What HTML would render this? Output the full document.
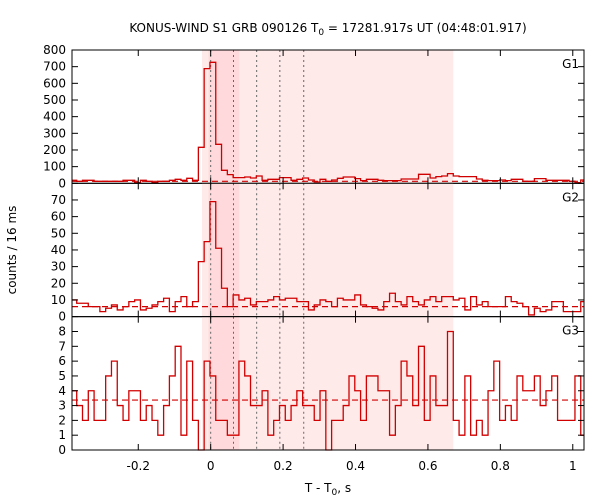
<!DOCTYPE html>
<html><head><meta charset="utf-8"><style>
html,body{margin:0;padding:0;background:#fff}
svg{display:block;font-family:"DejaVu Sans","Liberation Sans",sans-serif}
</style></head><body>
<svg id="chart" width="600" height="500" viewBox="0 0 600 500" xmlns="http://www.w3.org/2000/svg">
<text x="328" y="32" text-anchor="middle" font-size="12">KONUS-WIND S1 GRB 090126 T<tspan font-size="9" dy="3">0</tspan><tspan dy="-3"> = 17281.917s UT (04:48:01.917)</tspan></text>
<text transform="translate(16,250) rotate(-90)" text-anchor="middle" font-size="12">counts / 16 ms</text>
<text x="328" y="492" text-anchor="middle" font-size="12">T - T<tspan font-size="9" dy="3">0</tspan><tspan dy="-3">, s</tspan></text>
<g id="plots"></g>
</svg>
<script>
const binStart = -0.386;
const binWidth = 0.016;
const g1Counts = [18,12,18,18,12,12,12,12,12,18,18,4,18,12,4,12,12,18,24,18,30,18,216,688,726,234,78,52,34,34,38,32,44,18,24,24,34,34,18,24,32,20,8,24,12,20,30,38,38,28,16,24,24,18,16,16,16,26,26,26,54,54,32,40,44,58,44,40,40,40,26,18,16,16,20,16,24,24,12,12,28,28,18,18,18,18,12,4,20];
const g2Counts = [10,8,8,6,6,3,5,7,4,6,9,10,4,5,7,9,11,3,9,12,6,9,33,45,69,41,17,6,13,10,11,7,9,9,10,12,10,11,11,9,9,4,7,10,9,6,11,10,10,13,7,6,5,4,9,14,9,7,12,9,7,10,12,9,12,12,10,11,4,12,7,9,6,6,6,12,9,8,6,1,5,3,4,9,9,3,3,3,9];
const g3Counts = [4,3,2,4,2,2,5,6,3,2,4,4,2,3,2,1,3,5,7,1,6,2,0,6,5,2,2,1,1,6,5,3,3,4,1,2,3,2,3,4,3,3,2,4,0,2,2,3,5,4,2,5,5,4,4,1,3,6,5,3,7,2,5,3,3,8,2,1,5,1,2,1,4,6,2,3,2,5,4,4,5,3,4,5,2,2,2,5,1];
const backgrounds = [12, 6, 3.37];
const panelNames = ["G1","G2","G3"];
const yMaxes = [800, 80, 9];
const yTickSteps = [100, 10, 1];
const yTickMaxes = [800, 70, 8];
const xTicks = [-0.2, 0, 0.2, 0.4, 0.6, 0.8, 1.0];
const xTickLabels = ["-0.2","0","0.2","0.4","0.6","0.8","1"];
const dottedTimes = [0, 0.063, 0.127, 0.191, 0.257];
const lightShade = [-0.024, 0.670];
const darkShade = [-0.006, 0.079];

const X0 = 72, X1 = 584;
const tMin = -0.383, tMax = 1.031;
const panelTops = [50, 183.3, 316.7];
const panelH = 133.3;
const ns = "http://www.w3.org/2000/svg";
const root = document.getElementById("plots");
function xs(t){ return X0 + (t - tMin) / (tMax - tMin) * (X1 - X0); }
function mk(tag, attrs, parent){
  const e = document.createElementNS(ns, tag);
  for (const k in attrs) e.setAttribute(k, attrs[k]);
  (parent || root).appendChild(e);
  return e;
}
const allCounts = [g1Counts, g2Counts, g3Counts];
for (let p = 0; p < 3; p++){
  const top = panelTops[p], bot = top + panelH, ymax = yMaxes[p];
  const ys = v => bot - v / ymax * panelH;
  const g = mk("g", {});
  
  
  const ls = mk("rect", {x: xs(lightShade[0]), y: top, width: xs(lightShade[1]) - xs(lightShade[0]), height: panelH, fill: "#ffeaea"}, g);
  
  
  const ds = mk("rect", {x: xs(darkShade[0]), y: top, width: xs(darkShade[1]) - xs(darkShade[0]), height: panelH, fill: "#ffd9db"}, g);
  
  
  for (const t of dottedTimes){
    const l = mk("line", {x1: xs(t), x2: xs(t), y1: top, y2: bot, stroke: "#666", "stroke-width": 1, "stroke-dasharray": "2,3"}, g);
    
    
  }
  const bl = mk("line", {x1: X0, x2: X1, y1: ys(backgrounds[p]), y2: ys(backgrounds[p]), stroke: "#d00000", "stroke-width": 1.2, "stroke-dasharray": "6,4"}, g);
  
  
  const c = allCounts[p];
  let d = "";
  for (let i = 0; i < c.length; i++){
    const a = Math.max(xs(binStart + i * binWidth), X0);
    const b = Math.min(xs(binStart + (i + 1) * binWidth), X1);
    if (b <= a) continue;
    const y = ys(c[i]);
    d += (d ? "L" : "M") + a.toFixed(2) + "," + y.toFixed(2) + "L" + b.toFixed(2) + "," + y.toFixed(2);
  }
  const h = mk("path", {d: d, fill: "none", stroke: "#d00000", "stroke-width": 1.3}, g);
  
  
  const fr = mk("rect", {x: X0, y: top, width: X1 - X0, height: panelH, fill: "none", stroke: "#000", "stroke-width": 1}, g);
  
  
  for (const t of xTicks){
    const x = xs(t);
    mk("line", {x1: x, x2: x, y1: bot, y2: bot - 6, stroke: "#000"}, g);
    mk("line", {x1: x, x2: x, y1: top, y2: top + 6, stroke: "#000"}, g);
  }
  for (let v = 0; v <= yTickMaxes[p] + 1e-9; v += yTickSteps[p]){
    const y = ys(v);
    mk("line", {x1: X0, x2: X0 + 6, y1: y, y2: y, stroke: "#000"}, g);
    mk("line", {x1: X1, x2: X1 - 6, y1: y, y2: y, stroke: "#000"}, g);
    const tl = mk("text", {x: X0 - 6, y: y + 4, "text-anchor": "end", "font-size": 12}, g);
    
    
    tl.textContent = String(Math.round(v));
  }
  const pl = mk("text", {x: X1 - 5, y: top + 18, "text-anchor": "end", "font-size": 12}, g);
  
  
  pl.textContent = panelNames[p];
}
for (let i = 0; i < xTicks.length; i++){
  const t = mk("text", {x: xs(xTicks[i]), y: 470, "text-anchor": "middle", "font-size": 12});
  
  
  t.textContent = xTickLabels[i];
}
</script>
</body></html>
